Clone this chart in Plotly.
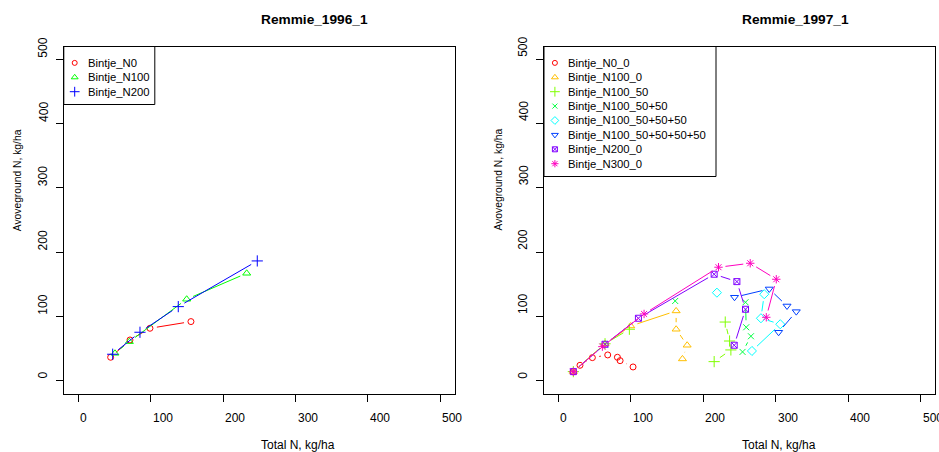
import math
import plotly.graph_objects as go

# ---------------------------------------------------------------------------
# Data: total N (x) vs aboveground N (y), kg/ha, per treatment and sampling
# ---------------------------------------------------------------------------
TICKS = [0, 100, 200, 300, 400, 500]
TICK_LABELS = ["0", "100", "200", "300", "400", "500"]

# Remmie 1996
names_1996 = ["Bintje_N0", "Bintje_N100", "Bintje_N200"]
n0_1996_total = [44.7, 71.4, 99.0, 155.6]
n0_1996_above = [36.4, 63.3, 81.5, 91.9]
n100_1996_total = [50.7, 70.5, 149.7, 232.6]
n100_1996_above = [42.6, 60.7, 126.7, 167.1]
n200_1996_total = [47.5, 85.2, 138.1, 247.2]
n200_1996_above = [41.1, 75.3, 115.2, 186.3]

# Remmie 1997 (None = no sample on that date)
names_1997 = ["Bintje_N0_0", "Bintje_N100_0", "Bintje_N100_50", "Bintje_N100_50+50",
              "Bintje_N100_50+50+50", "Bintje_N100_50+50+50+50", "Bintje_N200_0",
              "Bintje_N300_0"]
n0_0_total = [20.5, 29.7, 46.8, 68.0, 81.4, 85.1, 103.0]
n0_0_above = [14.0, 23.9, 35.8, 40.0, 36.4, 31.1, 21.3]
n100_0_total = [20.5, 64.3, 99.8, 162.5, 162.5, 177.7, 171.2]
n100_0_above = [14.0, 57.4, 85.1, 108.5, 80.0, 55.1, 33.8]
n100_50_total = [20.5, 64.3, 97.9, None, 230.3, 236.3, 238.1, 215.0]
n100_50_above = [14.0, 57.4, 80.0, None, 91.2, 61.7, 47.8, 29.6]
n100_50x2_total = [161.2, None, 258.3, 259.3, 265.8, 254.2]
n100_50x2_above = [124.0, None, 122.0, 83.1, 69.1, 44.7]
n100_50x3_total = [218.8, None, 284.2, 279.6, 306.3, 267.2]
n100_50x3_above = [136.9, None, 134.5, 97.1, 87.8, 46.2]
n100_50x4_total = [243.1, 291.1, 315.6, 328.4, 304.0]
n100_50x4_above = [129.8, 142.7, 116.2, 107.4, 75.3]
n200_0_total = [20.5, 64.3, 110.4, 215.0, 246.4, 258.3, 242.7]
n200_0_above = [14.0, 56.6, 97.1, 165.6, 154.1, 111.1, 55.1]
n300_0_total = [20.5, 60.6, 118.2, 221.0, 264.8, 300.8, 287.0]
n300_0_above = [14.0, 52.9, 103.8, 176.5, 182.7, 157.8, 98.6]

# ---------------------------------------------------------------------------
# Styling
# ---------------------------------------------------------------------------
W, H = 939, 452
AX_MIN, AX_MAX = -20, 520
LEFT_PX = (63.8, 454.8)
RIGHT_PX = (544.0, 935.0)
TOP_PX, BOTTOM_PX = 46.5, 393.5
FONT = "Liberation Sans, Arial, Helvetica, sans-serif"

cols_1996 = ["#FF0000", "#00FF00", "#0000FF"]
syms_1996 = ["circle-open", "triangle-up-open", "cross-thin-open"]
cols_1997 = ["#FF0000", "#FFBF00", "#80FF00", "#00FF40",
             "#00FFFF", "#0040FF", "#8000FF", "#FF00BF"]
syms_1997 = ["circle-open", "triangle-up-open", "cross-thin-open", "x-thin-open",
             "diamond-open", "triangle-down-open", "square-x-open", "asterisk-open"]
sym_size = {"circle-open": 6, "triangle-up-open": 7, "cross-thin-open": 8,
            "x-thin-open": 6, "diamond-open": 7, "triangle-down-open": 7,
            "square-x-open": 6, "asterisk-open": 7}

series_1996 = [(n0_1996_total, n0_1996_above), (n100_1996_total, n100_1996_above),
               (n200_1996_total, n200_1996_above)]
series_1997 = [(n0_0_total, n0_0_above), (n100_0_total, n100_0_above),
               (n100_50_total, n100_50_above), (n100_50x2_total, n100_50x2_above),
               (n100_50x3_total, n100_50x3_above), (n100_50x4_total, n100_50x4_above),
               (n200_0_total, n200_0_above), (n300_0_total, n300_0_above)]


def px_scale(dom):
    sx = (dom[1] - dom[0]) / (AX_MAX - AX_MIN)
    sy = (BOTTOM_PX - TOP_PX) / (AX_MAX - AX_MIN)
    return sx, sy


def gapped_lines(xs, ys, sx, sy, gap=7.0):
    """Segments between consecutive points, trimmed so they stop short of the symbols."""
    lx, ly = [], []
    for i in range(len(xs) - 1):
        x0, y0, x1, y1 = xs[i], ys[i], xs[i + 1], ys[i + 1]
        if None in (x0, y0, x1, y1):
            continue
        d = math.hypot((x1 - x0) * sx, (y1 - y0) * sy)
        if d <= 2 * gap:
            continue
        f = gap / d
        lx += [x0 + (x1 - x0) * f, x1 - (x1 - x0) * f, None]
        ly += [y0 + (y1 - y0) * f, y1 - (y1 - y0) * f, None]
    return lx, ly


fig = go.Figure()
annotations = []
shapes = []


def add_panel(series, names, cols, syms, xa, ya, dom, title, legend_w):
    sx, sy = px_scale(dom)
    for (xs, ys), nm, c, s in zip(series, names, cols, syms):
        lx, ly = gapped_lines(xs, ys, sx, sy)
        fig.add_trace(go.Scatter(x=lx, y=ly, mode="lines", xaxis=xa, yaxis=ya,
                                 line=dict(color=c, width=1), hoverinfo="skip",
                                 showlegend=False))
        fig.add_trace(go.Scatter(x=xs, y=ys, mode="markers", xaxis=xa, yaxis=ya, name=nm,
                                 marker=dict(symbol=s, color=c, size=sym_size[s],
                                             line=dict(color=c, width=1)),
                                 showlegend=False))

    # legend box in the top-left corner of the plot region
    step = 14.4
    first = 16.4
    legend_h = first + step * (len(names) - 1) + 12.8
    shapes.append(dict(type="rect", xref=xa, yref=ya,
                       x0=AX_MIN, x1=AX_MIN + legend_w / sx,
                       y0=AX_MAX - legend_h / sy, y1=AX_MAX,
                       line=dict(color="black", width=1), fillcolor="white", layer="below"))
    kx = [AX_MIN + 10.9 / sx] * len(names)
    ky = [AX_MAX - (first + i * step) / sy for i in range(len(names))]
    for i, (nm, c, s) in enumerate(zip(names, cols, syms)):
        fig.add_trace(go.Scatter(x=[kx[i]], y=[ky[i]], mode="markers", xaxis=xa, yaxis=ya,
                                 marker=dict(symbol=s, color=c, size=sym_size[s] - 1,
                                             line=dict(color=c, width=1)),
                                 hoverinfo="skip", showlegend=False))
        annotations.append(dict(x=AX_MIN + 22.0 / sx, y=ky[i], xref=xa, yref=ya,
                                text=nm, showarrow=False, xanchor="left", yanchor="middle",
                                font=dict(family=FONT, size=11.3, color="black")))

    # tick labels start at the tick position
    for v, t in zip(TICKS, TICK_LABELS):
        annotations.append(dict(x=v, y=(H - 417.5) / H, xref=xa, yref="paper", text=t,
                                showarrow=False, xanchor="left", yanchor="middle",
                                font=dict(family=FONT, size=12, color="black")))
        annotations.append(dict(x=(dom[0] - 20.5) / W, y=v, xref="paper", yref=ya, text=t,
                                showarrow=False, xanchor="center", yanchor="bottom",
                                textangle=-90,
                                font=dict(family=FONT, size=12, color="black")))

    mid = (AX_MIN + AX_MAX) / 2
    annotations.append(dict(x=mid, y=(H - 19) / H, xref=xa, yref="paper",
                            text="<b>" + title + "</b>", showarrow=False,
                            xanchor="left", yanchor="middle",
                            font=dict(family=FONT, size=13.7, color="black")))
    annotations.append(dict(x=mid, y=(H - 445) / H, xref=xa, yref="paper",
                            text="Total N, kg/ha", showarrow=False,
                            xanchor="left", yanchor="middle",
                            font=dict(family=FONT, size=12, color="black")))
    annotations.append(dict(x=(dom[0] - 46.5) / W, y=(H - 233) / H, xref="paper",
                            yref="paper", text="Avoveground N, kg/ha", showarrow=False,
                            xanchor="center", yanchor="bottom", textangle=-90,
                            font=dict(family=FONT, size=10.3, color="black")))


add_panel(series_1996, names_1996, cols_1996, syms_1996, "x", "y", LEFT_PX,
          "Remmie_1996_1", 91.0)
add_panel(series_1997, names_1997, cols_1997, syms_1997, "x2", "y2", RIGHT_PX,
          "Remmie_1997_1", 172.0)

axis_common = dict(range=[AX_MIN, AX_MAX], showgrid=False, zeroline=False,
                   showline=True, mirror=True, linecolor="black", linewidth=1,
                   ticks="outside", ticklen=7, tickwidth=1, tickcolor="black",
                   tickvals=TICKS, showticklabels=False, fixedrange=True)
ydom = [(H - BOTTOM_PX) / H, (H - TOP_PX) / H]

fig.update_layout(
    width=W, height=H,
    margin=dict(l=0, r=0, t=0, b=0),
    paper_bgcolor="white", plot_bgcolor="white",
    showlegend=False,
    xaxis=dict(domain=[LEFT_PX[0] / W, LEFT_PX[1] / W], anchor="y", **axis_common),
    yaxis=dict(domain=ydom, anchor="x", **axis_common),
    xaxis2=dict(domain=[RIGHT_PX[0] / W, RIGHT_PX[1] / W], anchor="y2", **axis_common),
    yaxis2=dict(domain=ydom, anchor="x2", **axis_common),
    annotations=annotations,
    shapes=shapes,
)

fig.write_html("out.html")
